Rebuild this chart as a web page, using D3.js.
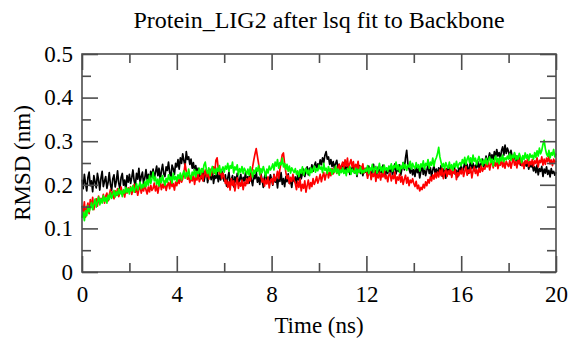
<!DOCTYPE html>
<html>
<head>
<meta charset="utf-8">
<script src="https://cdn.jsdelivr.net/npm/d3@7"></script>
<style>
  body { margin: 0; background: #fff; }
</style>
</head>
<body>
<div id="chart"></div>
<script>
// RMSD (nm), one sample every 0.05 ns from 0 to 20 ns
const dt = 0.05;

const rmsdBlack = [
  0.212,0.191,0.224,0.203,0.186,0.217,0.229,0.198,0.209,0.184,0.221,0.207,0.193,0.226,0.211,0.188,0.215,0.231,0.196,0.208,
  0.219,0.192,0.205,0.228,0.201,0.187,0.214,0.223,0.195,0.209,0.232,0.204,0.191,0.217,0.226,0.199,0.211,0.188,0.221,0.206,
  0.224,0.203,0.217,0.234,0.209,0.198,0.226,0.213,0.238,0.205,0.219,0.229,0.201,0.216,0.235,0.211,0.224,0.207,0.231,0.218,
  0.236,0.214,0.229,0.243,0.221,0.238,0.209,0.232,0.247,0.225,0.219,0.241,0.233,0.252,0.228,0.216,0.245,0.237,0.224,0.249,
  0.241,0.258,0.236,0.262,0.249,0.271,0.255,0.243,0.276,0.258,0.264,0.247,0.259,0.238,0.251,0.232,0.244,0.226,0.238,0.219,
  0.229,0.214,0.236,0.208,0.223,0.231,0.205,0.219,0.227,0.212,0.234,0.203,0.221,0.215,0.229,0.207,0.224,0.211,0.232,0.216,
  0.208,0.223,0.197,0.216,0.229,0.204,0.212,0.221,0.195,0.218,0.206,0.226,0.201,0.213,0.224,0.199,0.217,0.209,0.228,0.203,
  0.219,0.204,0.227,0.211,0.198,0.222,0.214,0.231,0.206,0.217,0.201,0.225,0.212,0.194,0.218,0.227,0.205,0.216,0.209,0.223,
  0.212,0.199,0.224,0.206,0.217,0.193,0.221,0.208,0.228,0.201,0.214,0.196,0.219,0.207,0.225,0.203,0.211,0.194,0.216,0.209,
  0.218,0.203,0.222,0.211,0.229,0.214,0.226,0.236,0.219,0.232,0.241,0.223,0.238,0.229,0.246,0.231,0.243,0.252,0.236,0.248,
  0.241,0.257,0.246,0.262,0.251,0.268,0.276,0.259,0.264,0.247,0.258,0.242,0.253,0.237,0.249,0.256,0.239,0.247,0.232,0.244,
  0.236,0.251,0.228,0.243,0.233,0.247,0.224,0.239,0.231,0.246,0.227,0.241,0.219,0.236,0.244,0.226,0.238,0.221,0.235,0.229,
  0.238,0.221,0.243,0.229,0.216,0.235,0.247,0.226,0.233,0.219,0.241,0.228,0.236,0.222,0.245,0.231,0.218,0.237,0.226,0.242,
  0.229,0.244,0.221,0.236,0.248,0.225,0.239,0.231,0.246,0.222,0.237,0.251,0.234,0.262,0.279,0.248,0.236,0.227,0.241,0.223,
  0.235,0.219,0.242,0.228,0.237,0.216,0.231,0.245,0.224,0.238,0.221,0.233,0.247,0.226,0.239,0.218,0.234,0.243,0.227,0.236,
  0.222,0.239,0.228,0.244,0.219,0.236,0.231,0.215,0.238,0.226,0.242,0.229,0.221,0.237,0.246,0.224,0.233,0.218,0.239,0.231,
  0.244,0.229,0.238,0.252,0.235,0.247,0.226,0.241,0.256,0.237,0.249,0.232,0.245,0.239,0.254,0.236,0.248,0.243,0.259,0.241,
  0.252,0.266,0.248,0.261,0.273,0.255,0.269,0.258,0.276,0.263,0.281,0.266,0.274,0.259,0.278,0.287,0.268,0.291,0.272,0.284,
  0.276,0.261,0.279,0.264,0.258,0.271,0.253,0.266,0.249,0.262,0.245,0.257,0.248,0.239,0.254,0.243,0.251,0.236,0.248,0.241,
  0.246,0.232,0.241,0.228,0.245,0.223,0.237,0.231,0.242,0.219,0.236,0.227,0.241,0.224,0.233,0.218,0.237,0.226,0.231,0.222,
  0.229
];

const rmsdRed = [
  0.152,0.138,0.161,0.126,0.147,0.158,0.134,0.166,0.149,0.171,0.143,0.159,0.168,0.151,0.174,0.157,0.169,0.162,0.178,0.158,
  0.174,0.181,0.163,0.177,0.189,0.171,0.184,0.168,0.186,0.176,0.191,0.173,0.182,0.195,0.178,0.186,0.172,0.189,0.181,0.193,
  0.184,0.196,0.178,0.191,0.201,0.183,0.194,0.176,0.189,0.198,0.181,0.193,0.186,0.203,0.188,0.179,0.195,0.184,0.199,0.187,
  0.192,0.204,0.186,0.198,0.181,0.196,0.207,0.189,0.201,0.193,0.209,0.187,0.199,0.205,0.191,0.211,0.196,0.203,0.188,0.206,
  0.198,0.212,0.203,0.219,0.206,0.214,0.227,0.248,0.231,0.213,0.221,0.205,0.216,0.209,0.224,0.201,0.218,0.211,0.226,0.207,
  0.215,0.228,0.209,0.223,0.234,0.218,0.229,0.213,0.236,0.221,0.232,0.241,0.226,0.256,0.262,0.237,0.224,0.231,0.214,0.227,
  0.218,0.203,0.211,0.194,0.207,0.188,0.214,0.199,0.209,0.186,0.203,0.216,0.192,0.205,0.197,0.211,0.189,0.206,0.198,0.214,
  0.203,0.217,0.209,0.228,0.241,0.257,0.271,0.283,0.266,0.249,0.232,0.219,0.206,0.214,0.197,0.211,0.202,0.218,0.193,0.209,
  0.214,0.201,0.223,0.209,0.218,0.231,0.214,0.236,0.252,0.269,0.273,0.248,0.229,0.214,0.221,0.203,0.217,0.208,0.224,0.211,
  0.203,0.189,0.208,0.194,0.213,0.186,0.201,0.192,0.209,0.183,0.198,0.211,0.191,0.205,0.196,0.214,0.201,0.208,0.219,0.204,
  0.213,0.224,0.207,0.219,0.228,0.211,0.223,0.234,0.216,0.229,0.221,0.237,0.225,0.231,0.242,0.226,0.239,0.247,0.231,0.244,
  0.252,0.238,0.257,0.243,0.261,0.236,0.249,0.258,0.241,0.253,0.233,0.247,0.239,0.254,0.229,0.243,0.236,0.248,0.227,0.238,
  0.231,0.215,0.228,0.236,0.212,0.225,0.219,0.233,0.208,0.224,0.216,0.229,0.211,0.226,0.218,0.234,0.214,0.221,0.207,0.223,
  0.226,0.209,0.221,0.214,0.229,0.203,0.218,0.211,0.224,0.206,0.219,0.201,0.213,0.222,0.204,0.217,0.198,0.211,0.205,0.214,
  0.203,0.196,0.208,0.191,0.199,0.186,0.194,0.189,0.201,0.193,0.207,0.198,0.212,0.204,0.218,0.209,0.223,0.213,0.227,0.216,
  0.229,0.218,0.234,0.221,0.238,0.214,0.227,0.236,0.219,0.232,0.224,0.239,0.217,0.231,0.226,0.235,0.212,0.228,0.221,0.233,
  0.225,0.237,0.219,0.231,0.242,0.222,0.234,0.227,0.239,0.216,0.232,0.241,0.226,0.235,0.221,0.238,0.229,0.244,0.231,0.239,
  0.236,0.248,0.241,0.253,0.234,0.247,0.256,0.239,0.251,0.243,0.258,0.237,0.249,0.245,0.259,0.241,0.252,0.238,0.254,0.247,
  0.242,0.256,0.238,0.251,0.261,0.245,0.253,0.239,0.257,0.248,0.263,0.244,0.252,0.237,0.255,0.249,0.259,0.242,0.254,0.246,
  0.258,0.243,0.255,0.249,0.262,0.241,0.256,0.251,0.264,0.245,0.259,0.247,0.261,0.253,0.266,0.248,0.257,0.244,0.259,0.252,
  0.255
];

const rmsdGreen = [
  0.124,0.137,0.118,0.141,0.129,0.152,0.138,0.146,0.159,0.143,0.156,0.167,0.149,0.161,0.172,0.154,0.168,0.158,0.175,0.162,
  0.171,0.158,0.176,0.166,0.182,0.169,0.178,0.187,0.172,0.184,0.176,0.191,0.179,0.186,0.173,0.189,0.181,0.194,0.183,0.191,
  0.179,0.194,0.186,0.198,0.183,0.192,0.203,0.188,0.197,0.206,0.191,0.201,0.194,0.208,0.196,0.212,0.199,0.221,0.203,0.214,
  0.229,0.209,0.218,0.201,0.213,0.197,0.216,0.205,0.221,0.208,0.199,0.215,0.206,0.223,0.211,0.218,0.204,0.226,0.212,0.219,
  0.208,0.223,0.214,0.227,0.211,0.224,0.232,0.215,0.228,0.219,0.236,0.221,0.213,0.229,0.222,0.235,0.218,0.231,0.226,0.238,
  0.224,0.237,0.229,0.246,0.252,0.234,0.226,0.239,0.221,0.233,0.242,0.227,0.236,0.224,0.238,0.231,0.244,0.228,0.235,0.241,
  0.229,0.243,0.236,0.249,0.231,0.244,0.238,0.252,0.227,0.241,0.234,0.246,0.223,0.237,0.229,0.242,0.226,0.238,0.232,0.224,
  0.236,0.222,0.241,0.229,0.218,0.234,0.226,0.239,0.231,0.244,0.223,0.237,0.228,0.242,0.232,0.219,0.236,0.227,0.243,0.234,
  0.239,0.248,0.234,0.252,0.243,0.258,0.238,0.251,0.246,0.261,0.241,0.249,0.235,0.247,0.231,0.243,0.227,0.239,0.233,0.228,
  0.237,0.224,0.232,0.219,0.235,0.227,0.241,0.222,0.231,0.238,0.226,0.234,0.221,0.239,0.228,0.236,0.243,0.229,0.237,0.232,
  0.245,0.236,0.241,0.228,0.249,0.233,0.238,0.226,0.242,0.231,0.237,0.224,0.235,0.229,0.243,0.227,0.236,0.222,0.234,0.228,
  0.239,0.226,0.234,0.221,0.237,0.229,0.242,0.224,0.236,0.231,0.227,0.238,0.223,0.235,0.229,0.241,0.226,0.233,0.228,0.236,
  0.231,0.244,0.226,0.239,0.233,0.247,0.229,0.238,0.242,0.227,0.236,0.249,0.232,0.241,0.228,0.245,0.234,0.239,0.231,0.243,
  0.236,0.248,0.231,0.244,0.239,0.252,0.235,0.246,0.229,0.243,0.237,0.251,0.238,0.247,0.233,0.245,0.241,0.254,0.236,0.249,
  0.242,0.237,0.251,0.239,0.246,0.232,0.248,0.241,0.255,0.236,0.249,0.244,0.258,0.238,0.252,0.245,0.261,0.243,0.256,0.262,
  0.271,0.286,0.264,0.252,0.241,0.249,0.236,0.251,0.243,0.238,0.252,0.237,0.246,0.233,0.249,0.241,0.254,0.239,0.247,0.251,
  0.244,0.258,0.249,0.263,0.247,0.259,0.266,0.251,0.262,0.248,0.268,0.254,0.261,0.246,0.257,0.265,0.252,0.259,0.244,0.256,
  0.249,0.261,0.247,0.256,0.264,0.251,0.259,0.243,0.257,0.266,0.252,0.261,0.248,0.263,0.255,0.268,0.253,0.262,0.257,0.266,
  0.259,0.271,0.256,0.268,0.262,0.274,0.257,0.266,0.259,0.272,0.264,0.251,0.267,0.258,0.273,0.261,0.269,0.256,0.271,0.263,
  0.268,0.259,0.274,0.263,0.278,0.266,0.284,0.271,0.279,0.293,0.302,0.283,0.271,0.265,0.279,0.262,0.274,0.268,0.281,0.264,
  0.272
];

const series = [
  { values: rmsdBlack, color: "#000000" },
  { values: rmsdRed, color: "#ff0000" },
  { values: rmsdGreen, color: "#00ff00" }
];

const xMajor = [0, 4, 8, 12, 16, 20];
const xMinor = [2, 6, 10, 14, 18];
const yMajor = [0, 0.1, 0.2, 0.3, 0.4, 0.5];
const yMinor = [0.05, 0.15, 0.25, 0.35, 0.45];

const titleText = "Protein_LIG2 after lsq fit to Backbone";
const xLabel = "Time (ns)";
const yLabel = "RMSD (nm)";

const serif = "Liberation Serif";

const width = 571, height = 339;
const margin = {top: 54, right: 15, bottom: 67, left: 82};
const innerW = width - margin.left - margin.right,
      innerH = height - margin.top - margin.bottom;

const svg = d3.select("#chart").append("svg")
    .attr("width", width)
    .attr("height", height);

const x = d3.scaleLinear().domain([0, 20]).range([0, innerW]);
const y = d3.scaleLinear().domain([0, 0.5]).range([innerH, 0]);

const g = svg.append("g")
    .attr("transform", "translate(" + margin.left + "," + margin.top + ")");

// data lines
const line = d3.line()
    .x((d, i) => x(i * dt))
    .y(d => y(d));

g.selectAll(".series")
    .data(series)
    .enter().append("path")
    .attr("class", "series")
    .attr("fill", "none")
    .attr("stroke", d => d.color)
    .attr("stroke-width", 1.7)
    .attr("stroke-linejoin", "round")
    .attr("d", d => line(d.values));

// frame with inward ticks
const axisColor = "#4d4d4d";
const majorLen = 16, minorLen = 9;

function styleAxis(sel) {
    sel.attr("font-family", serif).attr("font-size", 23);
    sel.select(".domain").remove();
    sel.selectAll(".tick line").attr("stroke", axisColor).attr("stroke-width", 1.6);
    sel.selectAll(".tick text").attr("fill", "#000").attr("font-family", serif);
}

g.append("g")
    .attr("transform", "translate(0," + innerH + ")")
    .call(d3.axisBottom(x).tickValues(xMajor).tickSize(-majorLen).tickPadding(14).tickFormat(d3.format("d")))
    .call(styleAxis);
g.append("g")
    .attr("transform", "translate(0," + innerH + ")")
    .call(d3.axisBottom(x).tickValues(xMinor).tickSize(-minorLen).tickFormat(""))
    .call(styleAxis);
g.append("g")
    .call(d3.axisTop(x).tickValues(xMajor).tickSize(-majorLen).tickFormat(""))
    .call(styleAxis);
g.append("g")
    .call(d3.axisTop(x).tickValues(xMinor).tickSize(-minorLen).tickFormat(""))
    .call(styleAxis);

g.append("g")
    .call(d3.axisLeft(y).tickValues(yMajor).tickSize(-majorLen).tickPadding(9).tickFormat(d => d === 0 ? "0" : d3.format(".1f")(d)))
    .call(styleAxis);
g.append("g")
    .call(d3.axisLeft(y).tickValues(yMinor).tickSize(-minorLen).tickFormat(""))
    .call(styleAxis);
g.append("g")
    .attr("transform", "translate(" + innerW + ",0)")
    .call(d3.axisRight(y).tickValues(yMajor).tickSize(-majorLen).tickFormat(""))
    .call(styleAxis);
g.append("g")
    .attr("transform", "translate(" + innerW + ",0)")
    .call(d3.axisRight(y).tickValues(yMinor).tickSize(-minorLen).tickFormat(""))
    .call(styleAxis);

g.append("rect")
    .attr("width", innerW)
    .attr("height", innerH)
    .attr("fill", "none")
    .attr("stroke", axisColor)
    .attr("stroke-width", 1.6);

// title and axis labels
svg.append("text")
    .attr("x", margin.left + innerW / 2)
    .attr("y", 28)
    .attr("text-anchor", "middle")
    .attr("font-family", serif)
    .attr("font-size", 24)
    .text(titleText);

svg.append("text")
    .attr("x", margin.left + innerW / 2)
    .attr("y", 333)
    .attr("text-anchor", "middle")
    .attr("font-family", serif)
    .attr("font-size", 23)
    .text(xLabel);

svg.append("text")
    .attr("transform", "translate(30," + (margin.top + innerH / 2) + ") rotate(-90)")
    .attr("text-anchor", "middle")
    .attr("font-family", serif)
    .attr("font-size", 23)
    .text(yLabel);
</script>
</body>
</html>
